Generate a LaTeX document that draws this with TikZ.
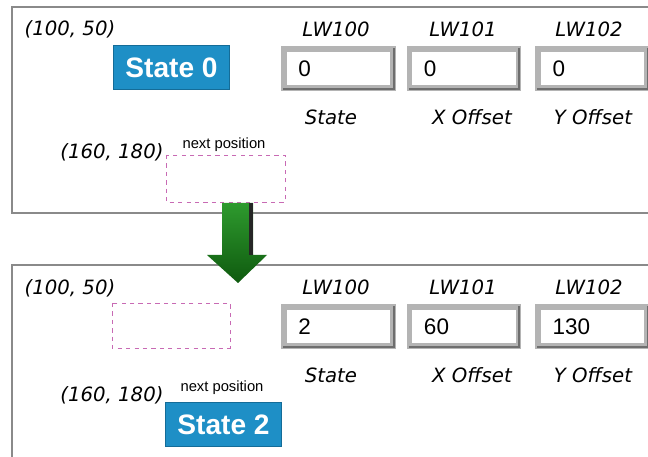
\documentclass[tikz,border=0pt]{standalone}
\usepackage{fontspec}
\setmainfont{Liberation Sans}
\newfontfamily\comicfont{DejaVu Sans}
\usetikzlibrary{calc}
\definecolor{frame}{HTML}{8A8A8A}
\definecolor{btnblue}{HTML}{1E8FC6}
\definecolor{btnedge}{HTML}{146C98}
\definecolor{boxgray}{HTML}{B4B4B4}
\definecolor{boxdark}{HTML}{6E6E6E}
\definecolor{dashpink}{HTML}{C86AB4}
\definecolor{agreen}{HTML}{2E9A2E}
\definecolor{dgreen}{HTML}{0F5A0F}

\begin{document}
\begin{tikzpicture}[
    x=0.025cm, y=-0.025cm,
    panel/.style={frame, line width=0.8pt},
    coordlbl/.style={font=\comicfont\itshape\fontsize{14}{14}\selectfont, inner sep=0pt},
    addr/.style={font=\comicfont\itshape\fontsize{14}{14}\selectfont, inner sep=0pt},
    caplbl/.style={font=\comicfont\itshape\fontsize{14}{14}\selectfont, inner sep=0pt},
    hint/.style={font=\fontsize{10.5}{10.5}\selectfont, inner sep=0pt},
    btn/.style={fill=btnblue, draw=btnedge, line width=1pt, text=white,
        font=\bfseries\fontsize{20}{20}\selectfont,
        minimum width=2.9cm, minimum height=1.1cm, inner sep=0pt},
    vbox/.style={fill=white, draw=boxgray, line width=4pt,
        minimum width=2.72cm, minimum height=0.98cm,
        text width=2.0cm, align=left, inner xsep=0.36cm, inner ysep=0pt,
        font=\fontsize{16}{16}\selectfont},
    slot/.style={draw=dashpink, dashed, line width=0.6pt},
]
\useasboundingbox (0,0) rectangle (648,457);

% ============================================================
% Panel frames (right / bottom sides run off the picture)
% ============================================================
\draw[panel] (648,7) -- (12,7) -- (12,213) -- (648,213);
\draw[panel] (648,265) -- (12,265) -- (12,457);

% ============================================================
% Upper panel: state 0
% ============================================================
\node[coordlbl] (topA) at (70,29)  {(100, 50)};
\node[coordlbl] (topB) at (112,152) {(160, 180)};
\node[hint]     (topH) at (224,145) {next position};
\node[btn]      (st0)  at (171.5,67.5) {State 0};
\draw[slot] (166,155) rectangle (285,202);

\node[addr] (lwA1) at (336,29) {LW100};
\node[addr] (lwB1) at (463,29) {LW101};
\node[addr] (lwC1) at (589,29) {LW102};
\node[vbox] (vA1) at (338.5,68.5) {0};
\node[vbox] (vB1) at (464,68.5)   {0};
\node[vbox] (vC1) at (592.5,68.5) {0};
\node[caplbl] (cA1) at (331,117) {State};
\node[caplbl] (cB1) at (472,117) {X Offset};
\node[caplbl] (cC1) at (593,117) {Y Offset};

% ============================================================
% Lower panel: state 2
% ============================================================
\node[coordlbl] (botA) at (70,288)  {(100, 50)};
\node[coordlbl] (botB) at (112,395) {(160, 180)};
\node[hint]     (botH) at (222,388) {next position};
\draw[slot] (112,303) rectangle (230,348);
\node[btn]      (st2)  at (223.5,424.5) {State 2};

\node[addr] (lwA2) at (336,287) {LW100};
\node[addr] (lwB2) at (463,287) {LW101};
\node[addr] (lwC2) at (589,287) {LW102};
\node[vbox] (vA2) at (338.5,326.5) {2};
\node[vbox] (vB2) at (464,326.5)   {60};
\node[vbox] (vC2) at (592.5,326.5) {130};
\node[caplbl] (cA2) at (331,375) {State};
\node[caplbl] (cB2) at (472,375) {X Offset};
\node[caplbl] (cC2) at (593,375) {Y Offset};

% bevel shadow on the value boxes
\foreach \b in {vA1,vB1,vC1,vA2,vB2,vC2}{
  \draw[boxdark, line width=1.2pt]
    ($(\b.south west)+(2,-2)$) -- ($(\b.south east)+(-2,-2)$) -- ($(\b.north east)+(-2,2)$);
}

% ============================================================
% Transition arrow
% ============================================================
\coordinate (tip) at (238,283);
\shade[left color=agreen, right color=dgreen, shading angle=0]
  (222,203) -- (253,203) -- (253,255) -- (267,255) -- (tip)
  -- (207,255) -- (222,255) -- cycle;
\fill[black!85] (249,203) rectangle (253,255);

\end{tikzpicture}
\end{document}
